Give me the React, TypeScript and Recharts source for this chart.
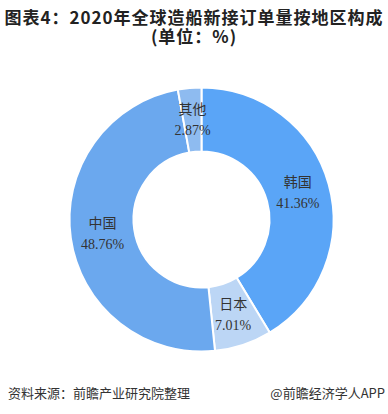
import React from "react";
import { PieChart, Pie, Cell } from "recharts";

const regions = ["韩国", "日本", "中国", "其他"];
const shares = [41.36, 7.01, 48.76, 2.87];
const colors = ["#5AA5F7", "#BCD6F5", "#6BA8EE", "#8EBBF0"];

const data = regions.map((name, i) => ({ name, value: shares[i] }));

const RADIAN = Math.PI / 180;

const renderLabel = (props: any) => {
  const { cx, cy, midAngle, innerRadius, outerRadius, index } = props;
  const r = (innerRadius + outerRadius) / 2;
  const x = cx + r * Math.cos(-midAngle * RADIAN);
  const y = cy + r * Math.sin(-midAngle * RADIAN);
  return (
    <text
      x={x}
      y={y}
      textAnchor="middle"
      fill="#333"
      fontSize={14}
      fontFamily="'Liberation Serif', 'Noto Sans CJK SC', serif"
    >
      <tspan x={x} y={y - 10} dominantBaseline="central">
        {regions[index]}
      </tspan>
      <tspan x={x} y={y + 11} dominantBaseline="central">
        {shares[index].toFixed(2)}%
      </tspan>
    </text>
  );
};

export default function App() {
  return (
    <div
      style={{
        position: "absolute",
        left: 0,
        top: 0,
        width: 388,
        height: 414,
        background: "#fff",
        overflow: "hidden",
      }}
    >
      <div
        style={{
          position: "absolute",
          left: 0,
          top: 7,
          width: 388,
          textAlign: "center",
          fontFamily: "'Noto Sans CJK SC', sans-serif",
          fontWeight: 700,
          fontSize: 17,
          letterSpacing: 1,
          lineHeight: "19px",
          color: "#222",
        }}
      >
        <div>图表4：2020年全球造船新接订单量按地区构成</div>
        <div>(单位：%)</div>
      </div>
      <div style={{ position: "absolute", left: 0, top: 0 }}>
        <PieChart width={388} height={414}>
          <Pie
            data={data}
            dataKey="value"
            nameKey="name"
            cx={196.5}
            cy={214.5}
            innerRadius={68}
            outerRadius={132}
            startAngle={90}
            endAngle={-270}
            stroke="#fff"
            strokeWidth={2}
            label={renderLabel}
            labelLine={false}
            isAnimationActive={false}
          >
            {data.map((d, i) => (
              <Cell key={d.name} fill={colors[i]} />
            ))}
          </Pie>
        </PieChart>
      </div>
      <div
        style={{
          position: "absolute",
          left: 8,
          top: 384,
          fontFamily: "'Noto Sans CJK SC', sans-serif",
          fontSize: 13,
          lineHeight: "18px",
          color: "#333",
        }}
      >
        资料来源：前瞻产业研究院整理
      </div>
      <div
        style={{
          position: "absolute",
          right: 3,
          top: 384,
          fontFamily: "'Noto Sans CJK SC', sans-serif",
          fontSize: 13,
          lineHeight: "18px",
          color: "#333",
        }}
      >
        @前瞻经济学人APP
      </div>
    </div>
  );
}
